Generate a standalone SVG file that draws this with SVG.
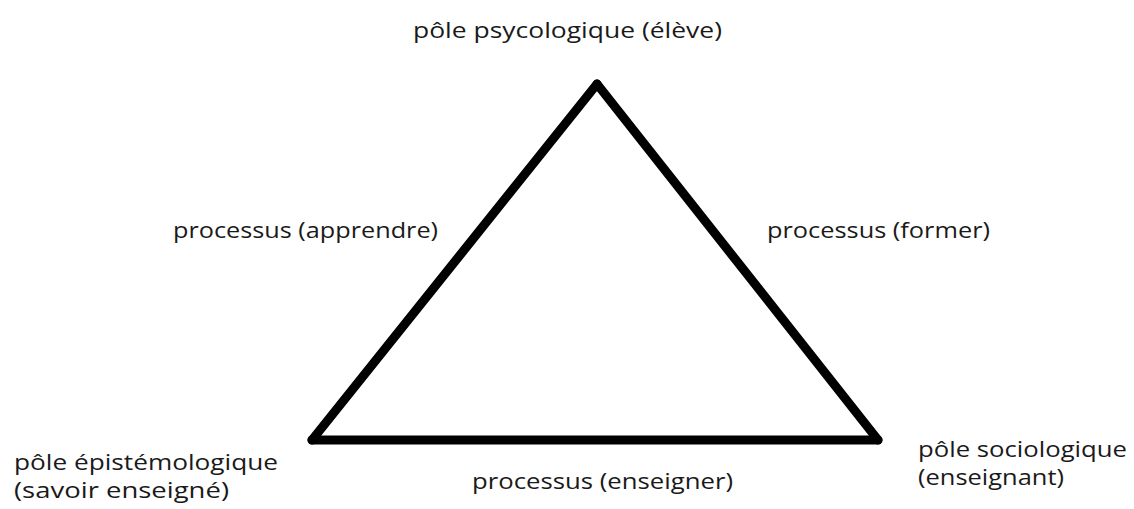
<svg xmlns="http://www.w3.org/2000/svg" width="1134" height="509" viewBox="0 0 1134 509">
<style>
.lbl{font-family:"Open Sans","Noto Sans","Liberation Sans",sans-serif;font-size:22px;fill:#1a1a1a;}
.edge{stroke:#000;stroke-width:9;fill:none;stroke-linecap:round;stroke-linejoin:round;}
</style>
<rect width="1134" height="509" fill="#fff"/>
<g id="connectors">
<path id="edge-left" class="edge" d="M312 440 L597 84"/>
<path id="edge-right" class="edge" d="M597 84 L878 440"/>
<path id="edge-bottom" class="edge" d="M312 440 L878 440"/>
</g>
<g id="node-psycologique">
<text class="lbl" x="413" y="38" textLength="309" lengthAdjust="spacingAndGlyphs">pôle psycologique (élève)</text>
</g>
<g id="node-epistemologique">
<text class="lbl" x="14" y="470" textLength="264" lengthAdjust="spacingAndGlyphs">pôle épistémologique</text>
<text class="lbl" x="14" y="498" textLength="215" lengthAdjust="spacingAndGlyphs">(savoir enseigné)</text>
</g>
<g id="node-sociologique">
<text class="lbl" x="918" y="457" textLength="209" lengthAdjust="spacingAndGlyphs">pôle sociologique</text>
<text class="lbl" x="918" y="485" textLength="146" lengthAdjust="spacingAndGlyphs">(enseignant)</text>
</g>
<g id="label-apprendre">
<text class="lbl" x="173" y="238" textLength="265" lengthAdjust="spacingAndGlyphs">processus (apprendre)</text>
</g>
<g id="label-former">
<text class="lbl" x="767" y="238" textLength="223" lengthAdjust="spacingAndGlyphs">processus (former)</text>
</g>
<g id="label-enseigner">
<text class="lbl" x="472" y="489" textLength="261" lengthAdjust="spacingAndGlyphs">processus (enseigner)</text>
</g>
</svg>
